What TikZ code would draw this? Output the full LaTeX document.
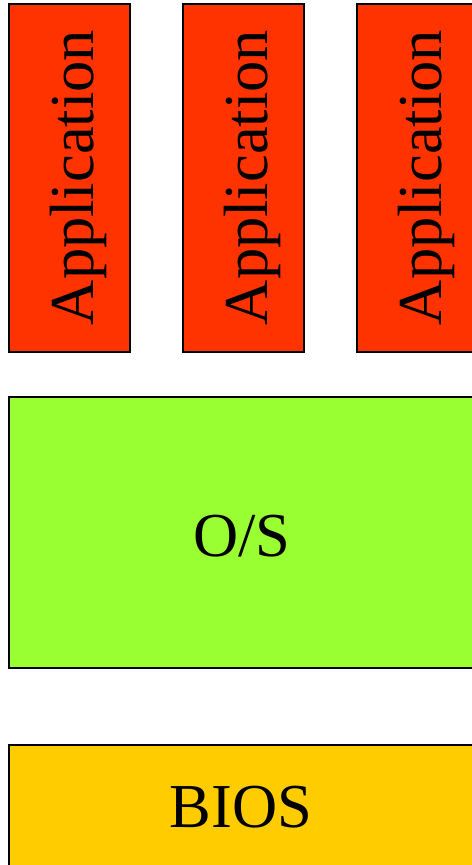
\documentclass[tikz,border=0pt]{standalone}
\usepackage{fontspec}
\setmainfont{Liberation Serif}
\definecolor{appred}{HTML}{FF3300}
\definecolor{osgreen}{HTML}{99FF33}
\definecolor{biosyellow}{HTML}{FFCC00}
\begin{document}
\begin{tikzpicture}[x=1bp,y=-1bp,
  layer/.style={draw=black,line width=1.3bp,rectangle,inner sep=0pt,outer sep=0pt},
  appbox/.style={layer,fill=appred,minimum width=121bp,minimum height=348bp},
  wide/.style={layer,minimum width=467bp},
  lbl/.style={inner sep=0pt,outer sep=0pt,font=\fontsize{62.5bp}{70bp}\selectfont}]
\useasboundingbox (0,0) rectangle (472,865);
\clip (0,0) rectangle (472,865);
% application layer
\node[appbox] (app1) at (69.5,178) {};
\node[appbox] (app2) at (243.5,178) {};
\node[appbox] (app3) at (417.5,178) {};
\node[lbl,rotate=90,anchor=base west] (t1) at (93,325) {Application};
\node[lbl,rotate=90,anchor=base west] (t2) at (267,325) {Application};
\node[lbl,rotate=90,anchor=base west] (t3) at (441,325) {Application};
% operating system
\node[wide,fill=osgreen,minimum height=271bp] (os) at (242.5,532.5) {};
\node[lbl,anchor=base] (tos) at (242,556) {O/S};
% firmware
\node[wide,fill=biosyellow,minimum height=125bp] (bios) at (242.5,807.5) {};
\node[lbl,anchor=base] (tbios) at (241,827) {BIOS};
\end{tikzpicture}
\end{document}
